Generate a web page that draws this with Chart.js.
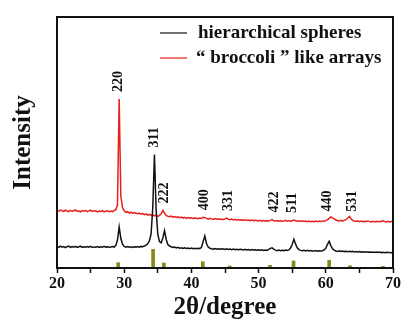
<!DOCTYPE html>
<html>
<head>
<meta charset="utf-8">
<script src="https://cdn.jsdelivr.net/npm/chart.js@4.4.1/dist/chart.umd.min.js"></script>
<style>
  html, body { margin: 0; padding: 0; background: #fff; }
  #xrd { display: block; }
</style>
</head>
<body>
<canvas id="xrd" width="416" height="327"></canvas>
<script>
// step scan, 20-70 deg, 0.25 deg step
const twoTheta = Array.from({ length: 201 }, (_, i) => 20 + i * 0.25);

const spheres = [
  21.2, 20.6, 21.8, 20.9, 21.5, 20.4, 21.3, 21.9,
  20.7, 21.4, 20.8, 21.6, 20.5, 21.2, 21.8, 20.6,
  21.3, 20.7, 21.5, 20.9, 21.7, 20.6, 21.1, 20.8,
  21.4, 20.5, 21.2, 20.8, 21.6, 20.9, 21.3, 20.7,
  21.0, 21.5, 20.9, 22.6, 28.0, 41.0, 29.5, 23.8,
  21.6, 20.9, 21.4, 20.7, 21.2, 20.6, 21.3, 20.9,
  21.5, 20.8, 21.6, 21.2, 22.0, 22.8, 24.2, 27.0,
  34.0, 60.0, 113.5, 58.0, 33.5, 26.5, 25.2, 30.0,
  37.3, 28.5, 23.5, 22.0, 21.2, 20.5, 20.9, 20.1,
  20.6, 19.8, 20.3, 19.6, 20.2, 19.5, 20.0, 19.4,
  19.9, 19.3, 19.8, 19.2, 19.7, 19.4, 20.6, 26.5,
  32.0, 24.5, 21.0, 19.8, 19.3, 18.9, 19.5, 18.8,
  19.3, 18.7, 19.2, 18.9, 18.5, 19.1, 18.6, 19.0,
  18.4, 18.9, 18.3, 18.8, 18.2, 18.7, 18.4, 18.0,
  18.6, 18.1, 18.5, 17.9, 18.4, 18.0, 18.3, 17.8,
  18.2, 17.7, 18.1, 17.6, 18.0, 17.5, 18.6, 19.6,
  20.2, 18.8, 17.9, 17.4, 17.9, 17.3, 17.8, 17.4,
  17.9, 17.5, 18.1, 20.0, 23.5, 28.7, 24.0, 20.2,
  18.4, 17.6, 17.2, 17.7, 17.1, 17.6, 17.0, 17.5,
  17.1, 16.9, 17.4, 16.8, 17.3, 16.9, 17.2, 18.0,
  19.8, 23.6, 26.8, 22.4, 19.2, 17.8, 17.0, 16.6,
  17.1, 16.5, 16.9, 16.4, 16.8, 16.3, 16.7, 16.2,
  16.6, 16.1, 16.5, 16.0, 16.4, 15.9, 16.3, 15.8,
  16.2, 15.8, 16.1, 15.7, 16.0, 15.6, 15.9, 15.5,
  15.9, 15.4, 15.8, 15.3, 15.7, 15.4, 15.6, 15.2,
  15.6
];

const broccoli = [
  57.5, 56.8, 58.0, 57.2, 56.6, 57.9, 57.0, 56.4,
  57.6, 56.9, 57.3, 58.1, 56.7, 57.0, 56.2, 57.4,
  56.8, 57.5, 56.3, 57.1, 57.8, 56.5, 56.9, 57.3,
  56.1, 57.0, 56.6, 57.4, 56.2, 56.8, 57.2, 56.4,
  56.9, 56.3, 57.5, 58.4, 63.0, 169.0, 72.0, 60.5,
  57.2, 55.6, 56.3, 55.0, 55.8, 54.6, 55.4, 54.8,
  54.2, 55.0, 53.8, 54.5, 53.4, 54.1, 52.9, 53.6,
  52.5, 53.1, 52.0, 52.8, 51.7, 52.6, 54.2, 57.5,
  55.0, 52.6, 51.8, 51.2, 51.9, 50.8, 51.5, 50.6,
  51.2, 50.3, 50.9, 49.8, 50.6, 49.6, 50.4, 49.9,
  50.3, 49.4, 50.1, 49.7, 49.2, 50.0, 49.5, 50.8,
  50.4, 49.6, 48.9, 49.7, 49.1, 48.6, 49.4, 48.8,
  49.2, 48.5, 49.0, 48.4, 49.1, 49.9, 48.6, 48.2,
  48.9, 48.1, 48.6, 47.8, 48.5, 47.9, 48.3, 47.6,
  48.2, 47.5, 48.0, 47.3, 47.9, 47.2, 47.8, 47.4,
  47.0, 47.7, 46.8, 47.5, 46.9, 47.3, 47.0, 47.6,
  48.4, 47.2, 46.9, 47.5, 46.7, 47.3, 46.8, 47.1,
  47.6, 46.9, 47.4, 46.6, 47.3, 48.0, 47.2, 46.8,
  47.3, 46.6, 47.1, 46.5, 47.0, 46.4, 46.9, 46.3,
  46.8, 46.2, 46.9, 46.4, 47.0, 46.5, 47.1, 46.8,
  47.4, 48.3, 49.6, 51.0, 50.2, 49.1, 48.0, 47.5,
  47.0, 47.6, 46.9, 47.8, 48.3, 49.8, 51.6, 49.2,
  47.6, 47.0, 46.5, 47.1, 46.4, 46.9, 46.3, 46.8,
  46.2, 46.9, 46.4, 46.0, 46.7, 46.1, 46.6, 46.2,
  46.8, 46.3, 47.4, 46.6, 46.1, 46.7, 46.0, 46.5,
  46.8
];

// standard card lines
const refAngles = [29.1, 34.3, 35.9, 41.7, 45.7, 51.7, 55.2, 60.5, 63.6, 68.5];
const refHeights = [5.3, 18.7, 5.0, 6.3, 2.0, 2.7, 7.0, 7.7, 2.3, 1.7];

const hklLabels = ['220', '311', '222', '400', '331', '422', '511', '440', '531'];
const hklAngles = [29.2, 34.45, 36.0, 41.9, 45.45, 52.3, 55.1, 60.3, 64.0];

const xTicks = [20, 30, 40, 50, 60, 70];

const serif = '"Liberation Serif", "Times New Roman", serif';

const toPoints = (ys) => ys.map((y, i) => ({ x: twoTheta[i], y: y }));

// frame around the plot area
const framePlugin = {
  id: 'frame',
  afterDraw(chart) {
    const { ctx, chartArea: a } = chart;
    ctx.save();
    ctx.strokeStyle = '#111';
    ctx.lineWidth = 2;
    ctx.strokeRect(a.left, a.top, a.right - a.left, a.bottom - a.top);
    ctx.restore();
  }
};

// rotated (hkl) labels above the peaks
const hklPlugin = {
  id: 'hkl',
  afterDatasetsDraw(chart) {
    const { ctx, scales: { x, y } } = chart;
    ctx.save();
    ctx.font = 'bold 14px ' + serif;
    ctx.fillStyle = '#111';
    ctx.textAlign = 'left';
    ctx.textBaseline = 'middle';
    hklLabels.forEach((txt, k) => {
      const ang = hklAngles[k];
      let top = 0;
      twoTheta.forEach((t, i) => {
        if (Math.abs(t - ang) <= 0.3) top = Math.max(top, spheres[i], broccoli[i]);
      });
      const px = x.getPixelForValue(ang);
      const py = y.getPixelForValue(top) - 7;
      ctx.save();
      ctx.translate(px, py);
      ctx.rotate(-Math.PI / 2);
      ctx.fillText(txt, 0, 0);
      ctx.restore();
    });
    ctx.restore();
  }
};

// legend in the upper right of the plot
const keyPlugin = {
  id: 'key',
  afterDraw(chart) {
    const { ctx, chartArea: a } = chart;
    const lines = chart.data.datasets.filter(d => d.type === 'line');
    ctx.save();
    ctx.font = 'bold 19px ' + serif;
    ctx.textAlign = 'left';
    ctx.textBaseline = 'middle';
    lines.forEach((d, k) => {
      const yy = a.top + 16 + k * 25;
      ctx.strokeStyle = d.borderColor;
      ctx.lineWidth = 1.2;
      ctx.beginPath();
      ctx.moveTo(a.left + 103, yy);
      ctx.lineTo(a.left + 130, yy);
      ctx.stroke();
      ctx.fillStyle = '#111';
      ctx.fillText(d.label, a.left + 141 - k * 2, yy);
    });
    ctx.restore();
  }
};

new Chart(document.getElementById('xrd'), {
  data: {
    datasets: [
      {
        type: 'line',
        label: 'hierarchical spheres',
        data: toPoints(spheres),
        borderColor: '#111111',
        borderWidth: 1.5,
        pointRadius: 0,
        tension: 0
      },
      {
        type: 'line',
        label: '\u201c broccoli \u201d like arrays',
        data: toPoints(broccoli),
        borderColor: '#e8201c',
        borderWidth: 1.5,
        pointRadius: 0,
        tension: 0
      },
      {
        type: 'bar',
        label: 'PDF',
        data: refAngles.map((a, i) => ({ x: a, y: refHeights[i] })),
        backgroundColor: '#8a8a1c',
        barThickness: 3,
        grouped: false
      }
    ]
  },
  options: {
    responsive: false,
    animation: false,
    layout: { padding: { top: 17, right: 23, left: 0, bottom: 0 } },
    plugins: {
      legend: { display: false },
      tooltip: { enabled: false }
    },
    scales: {
      x: {
        type: 'linear',
        min: 20,
        max: 70,
        offset: false,
        afterFit(scale) { scale.height = 59; },
        afterBuildTicks(scale) {
          const t = [];
          for (let v = 20; v <= 70; v += 5) t.push({ value: v });
          scale.ticks = t;
        },
        ticks: {
          color: '#111',
          padding: 1,
          maxRotation: 0,
          autoSkip: false,
          font: { family: serif, size: 16, weight: 'bold' },
          callback: (v) => (xTicks.includes(v) ? String(v) : '')
        },
        grid: {
          offset: false,
          drawOnChartArea: false,
          drawTicks: true,
          tickLength: 5,
          tickWidth: 1.5,
          color: '#111'
        },
        border: { display: false },
        title: {
          display: true,
          text: '2\u03b8/degree',
          color: '#111',
          font: { family: serif, size: 25, weight: 'bold' },
          padding: { top: 0, bottom: 4 }
        }
      },
      y: {
        min: 0,
        max: 251,
        afterFit(scale) { scale.width = 57; },
        ticks: { display: false },
        grid: { display: false },
        border: { display: false },
        title: {
          display: true,
          text: 'Intensity',
          color: '#111',
          font: { family: serif, size: 25, weight: 'bold' },
          padding: { top: 9, bottom: 0 }
        }
      }
    }
  },
  plugins: [framePlugin, hklPlugin, keyPlugin]
});
</script>
</body>
</html>
